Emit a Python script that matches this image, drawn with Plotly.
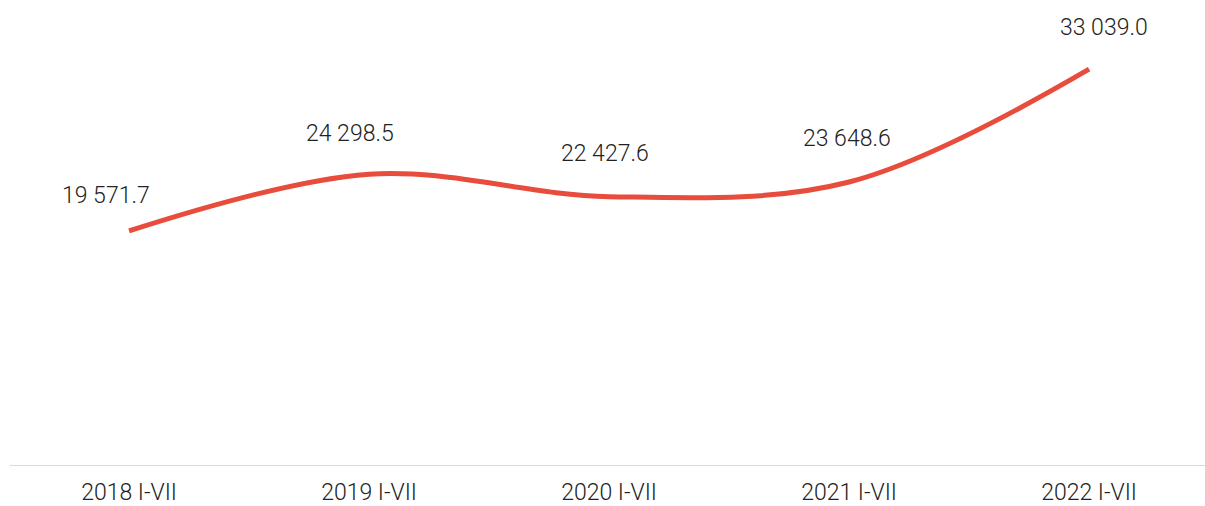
import plotly.graph_objects as go

categories = ["2018 I-VII", "2019 I-VII", "2020 I-VII", "2021 I-VII", "2022 I-VII"]
values = [19571.7, 24298.5, 22427.6, 23648.6, 33039.0]
labels = ["19 571.7", "24 298.5", "22 427.6", "23 648.6", "33 039.0"]

label_dx = [-23, -19, -4, -2, 15]
label_dy = [35, 41, 43, 43, 42]

fig = go.Figure()
fig.add_trace(go.Scatter(
    x=list(range(len(categories))), y=values, mode="lines",
    line=dict(color="#E84C3D", width=5, shape="spline", smoothing=1.0),
    hoverinfo="skip", showlegend=False,
))

font = dict(family="Roboto", size=23, color="#222222", weight=300)
for i, (v, t) in enumerate(zip(values, labels)):
    fig.add_annotation(x=i, y=v, text=t, showarrow=False, xshift=label_dx[i],
                       yshift=label_dy[i], font=font, xanchor="center", yanchor="middle")

fig.update_layout(
    width=1205, height=506,
    margin=dict(l=10, r=0, t=0, b=40, autoexpand=False),
    paper_bgcolor="white", plot_bgcolor="white",
    xaxis=dict(range=[-0.496, 4.483], tickmode="array", tickvals=list(range(len(categories))),
               ticktext=categories, showgrid=False, zeroline=False, showline=False,
               tickfont=font, ticks="", ticklabelstandoff=10),
    yaxis=dict(range=[0, 38800], visible=False, showgrid=False, zeroline=False),
    shapes=[dict(type="line", xref="paper", yref="y", x0=0, x1=1, y0=0, y1=0,
                 line=dict(color="#D9D9D9", width=2))],
)
fig.write_html("out.html", config={"displayModeBar": False},
               post_script="document.body.style.margin='0';")
